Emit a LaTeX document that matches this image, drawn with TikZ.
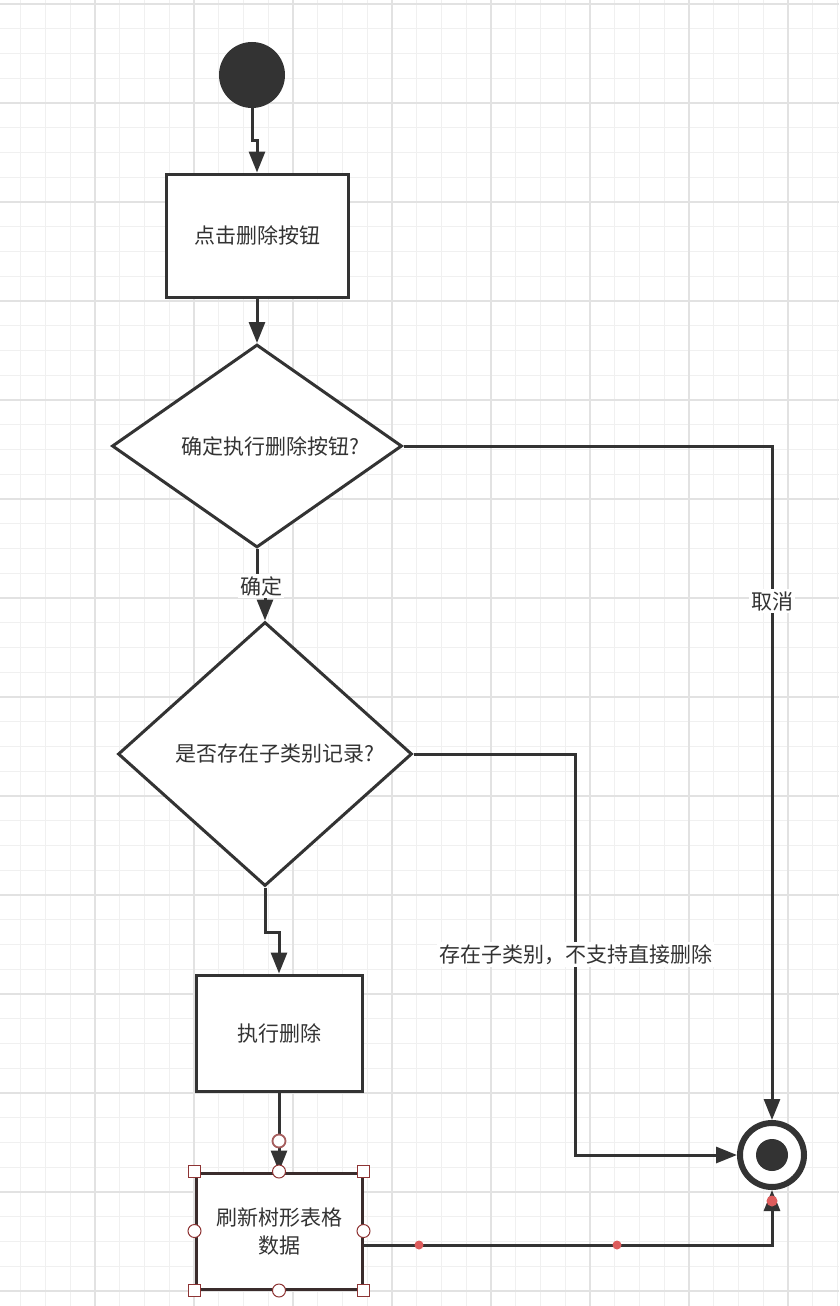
\documentclass[tikz,border=0pt]{standalone}
\usepackage{fontspec}
\newfontfamily\cjk{Noto Sans CJK SC}
\usetikzlibrary{arrows.meta,shapes.geometric}
\definecolor{inkdark}{HTML}{333333}
\definecolor{gridpale}{HTML}{F0F0F0}
\definecolor{gridmid}{HTML}{E2E2E2}
\definecolor{handlered}{HTML}{8E3434}
\definecolor{dotred}{HTML}{DD5C5C}
\definecolor{selborder}{HTML}{3A2C2C}

\begin{document}
\begin{tikzpicture}[x=1pt,y=-1pt,
  every node/.style={font=\cjk\fontsize{21}{28}\selectfont,text=inkdark,align=center},
  flow/.style={draw=inkdark,line width=3pt,-{Triangle[length=21pt,width=16pt]}},
  actbox/.style={draw=inkdark,line width=3pt,fill=white,inner sep=0pt},
  decide/.style={diamond,draw=inkdark,line width=3pt,fill=white,inner sep=0pt},
  lbl/.style={fill=white,inner sep=2pt},
  handlesq/.style={draw=handlered,line width=1pt,fill=white,minimum size=12pt,inner sep=0pt},
  handlecirc/.style={circle,draw=handlered,line width=1pt,fill=white,minimum size=13pt,inner sep=0pt}]
  \useasboundingbox (0,0) rectangle (839,1306);
  \fill[white] (0,0) rectangle (839,1306);
  % grid
  \foreach \i in {0,...,34}
    \draw[gridpale,line width=1.2pt] ({-4+24.75*\i},0) -- ++(0,1306);
  \foreach \j in {0,...,52}
    \draw[gridpale,line width=1.2pt] (0,{4+24.75*\j}) -- ++(839,0);
  \foreach \i in {0,...,8}
    \draw[gridmid,line width=1.4pt] ({-4+99*\i},0) -- ++(0,1306);
  \foreach \j in {0,...,13}
    \draw[gridmid,line width=1.4pt] (0,{4+99*\j}) -- ++(839,0);

  \node[circle,fill=inkdark,minimum size=66pt,inner sep=0pt] (startdot) at (252,75) {};
  \node[actbox,minimum width=182pt,minimum height=123pt] (clickbox) at (257,235.5) {点击删除按钮};
  \node[decide,shape aspect=1.43,minimum width=290pt,minimum height=203pt] (confirm) at (257,446)
    {\hspace*{26pt}确定执行删除按钮?};
  \node[decide,shape aspect=1.11,minimum width=294pt,minimum height=264pt] (haschild) at (265,754)
    {\hspace*{19pt}是否存在子类别记录?};
  \node[actbox,minimum width=166pt,minimum height=116pt] (delbox) at (279,1033) {执行删除};
  \node[actbox,draw=selborder,minimum width=166pt,minimum height=116pt] (refresh) at (279,1231)
    {刷新树形表格\\数据};
  \node[circle,draw=inkdark,line width=6pt,fill=white,minimum size=64pt,inner sep=0pt] (enddot) at (772,1155) {};
  \fill[inkdark] (enddot) circle (16);

  \draw[flow] (startdot.south) -- ++(0,32) -| (clickbox.north);
  \draw[flow] (clickbox.south) -- (confirm.north);
  \draw[flow] (confirm.south) -- ++(0,37) -| node[lbl,pos=0.25]{确定} (haschild.north);
  \draw[flow] (haschild.south) -- ++(0,45) -| (delbox.north);
  \draw[flow] (delbox.south) -- (refresh.north);
  \draw[flow] (confirm.east) -| node[lbl,pos=0.615]{取消} (enddot.north);
  \draw[flow] (haschild.east) -- ++(162,0) |- node[lbl,pos=0.25]{存在子类别，不支持直接删除} (enddot.west);
  \draw[flow] ([yshift=-14pt]refresh.east) -| (enddot.south);

  % selection marks
  \node[circle,draw=handlered!80,line width=1.8pt,fill=white,minimum size=13pt,inner sep=0pt] (srcmark) at (279,1141) {};
  \foreach \c in {north west,north east,south west,south east}
    \node[handlesq] (sq \c) at (refresh.\c) {};
  \foreach \c in {north,south,west,east}
    \node[handlecirc] (ci \c) at (refresh.\c) {};
  \fill[dotred] (419,1245) circle (4.5) (617,1245) circle (4.5) (772,1201) circle (5.5);
\end{tikzpicture}
\end{document}
